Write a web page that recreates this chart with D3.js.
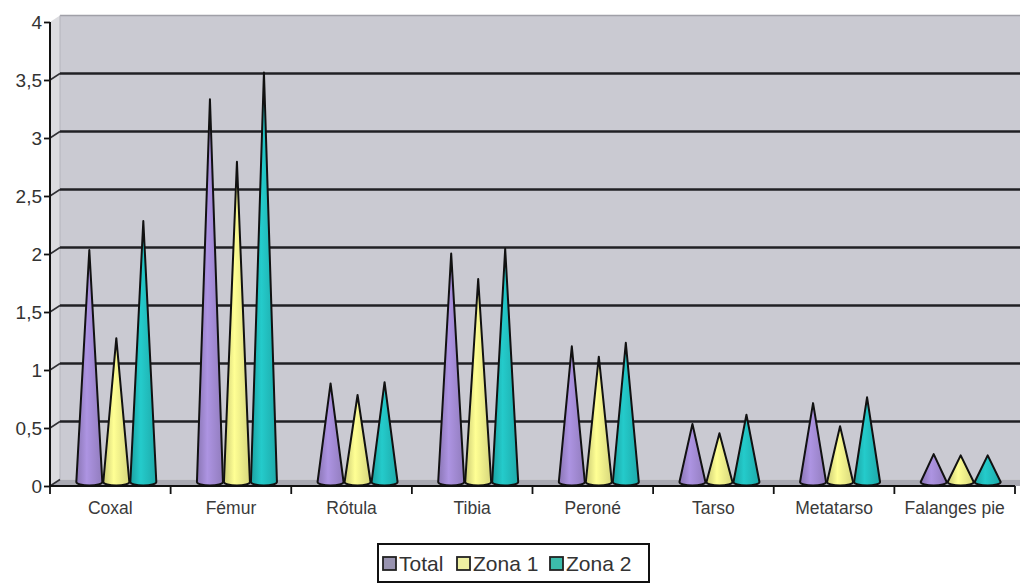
<!DOCTYPE html>
<html><head><meta charset="utf-8">
<script src="https://cdn.jsdelivr.net/npm/d3@7"></script>
<style>html,body{margin:0;padding:0;background:#fff;}svg{display:block;font-family:"Liberation Sans",Arial,sans-serif;}</style>
</head><body><svg id="chart" width="1020" height="584"></svg>
<script>
const categories = ["Coxal","Fémur","Rótula","Tibia","Peroné","Tarso","Metatarso","Falanges pie"];
const seriesNames = ["Total","Zona 1","Zona 2"];
const totalValues = [2.0, 3.3, 0.85, 1.97, 1.17, 0.5, 0.68, 0.24];
const zona1Values = [1.24, 2.76, 0.75, 1.75, 1.08, 0.42, 0.48, 0.23];
const zona2Values = [2.25, 3.53, 0.86, 2.01, 1.2, 0.58, 0.73, 0.23];
const yTicks = [0, 0.5, 1, 1.5, 2, 2.5, 3, 3.5, 4];
const yTickLabels = ["0","0,5","1","1,5","2","2,5","3","3,5","4"];
const seriesColors = ["#a48cd6", "#f2f28c", "#22c0c0"];
const legendColors = ["#9893b0", "#eef0a2", "#3cbcab"];

const values = [totalValues, zona1Values, zona2Values];
const svg = d3.select("#chart");

const x0 = d3.scaleBand().domain(categories).range([50, 1015]).paddingInner(0).paddingOuter(0);
const xs = d3.scaleBand().domain(seriesNames).range([-40.5, 40.5]);
const y = d3.scaleLinear().domain([0, 4]).range([486, 22]);
const depthX = 10, depthY = -6.5;   // back wall offset
const coneDX = 6, coneDY = -4;      // cones at mid depth

// gradients
const defs = svg.append("defs");
seriesColors.forEach((c, i) => {
  const g = defs.append("linearGradient").attr("id", "cg" + i).attr("x1", "0").attr("x2", "1").attr("y1", "0").attr("y2", "0");
  const base = d3.color(c);
  g.append("stop").attr("offset", "0").attr("stop-color", base.darker(0.5));
  g.append("stop").attr("offset", "0.4").attr("stop-color", base.brighter(0.15));
  g.append("stop").attr("offset", "1").attr("stop-color", base.darker(0.35));
});

const xL = 50, xR = 1015;
// back wall
svg.append("rect").attr("x", xL + depthX).attr("y", y(4) + depthY)
  .attr("width", 1020 - (xL + depthX)).attr("height", y(0) - y(4))
  .attr("fill", "#cacad2");
svg.append("line").attr("x1", xL + depthX).attr("x2", 1020).attr("y1", y(4) + depthY).attr("y2", y(4) + depthY)
  .attr("stroke", "#a0a0a8").attr("stroke-width", 1.5);
// side wall
svg.append("path").attr("d", `M${xL},${y(4)} L${xL + depthX},${y(4) + depthY} L${xL + depthX},${y(0) + depthY} L${xL},${y(0)} Z`)
  .attr("fill", "#dcdce0");
svg.append("line").attr("x1", xL + depthX).attr("x2", xL + depthX).attr("y1", y(4) + depthY).attr("y2", y(0) + depthY)
  .attr("stroke", "#b4b4bc").attr("stroke-width", 1);
// floor
svg.append("path").attr("d", `M${xL},${y(0)} L${xL + depthX},${y(0) + depthY} L1020,${y(0) + depthY} L${xR + 5},${y(0)} Z`)
  .attr("fill", "#a9a9b2");

// gridlines on back wall
svg.append("g").selectAll("line").data(yTicks.filter(t => t > 0 && t < 4)).join("line")
  .attr("x1", xL + depthX).attr("x2", 1020)
  .attr("y1", d => y(d) + depthY).attr("y2", d => y(d) + depthY)
  .attr("stroke", "#202024").attr("stroke-width", 2.5);
// gridline connectors on side wall
svg.append("g").selectAll("path").data(yTicks.filter(t => t < 4)).join("path")
  .attr("d", d => `M${xL},${y(d)} L${xL + depthX},${y(d) + depthY}`)
  .attr("stroke", "#303034").attr("stroke-width", 1.5).attr("fill", "none");

// cones
const coneHalf = 13, ry = 3.5;
const conePath = (cx, v) => {
  const by = y(0) + coneDY, ay = y(v) + coneDY;
  return `M${cx - coneHalf},${by} L${cx},${ay} L${cx + coneHalf},${by} A${coneHalf},${ry} 0 0 1 ${cx - coneHalf},${by} Z`;
};
const coneData = [];
categories.forEach((c, ci) => {
  seriesNames.forEach((s, si) => {
    coneData.push({cat: c, s, si, v: values[si][ci]});
  });
});
svg.append("g").selectAll("path").data(coneData).join("path")
  .attr("d", d => conePath(x0(d.cat) + x0.bandwidth() / 2 + xs(d.s) + xs.bandwidth() / 2 + coneDX, d.v))
  .attr("fill", d => `url(#cg${d.si})`)
  .attr("stroke", "#111").attr("stroke-width", 2).attr("stroke-linejoin", "round");

// y axis
const yAxis = d3.axisLeft(y).tickValues(yTicks).tickSize(6).tickFormat((d, i) => yTickLabels[i]);
const gy = svg.append("g").attr("transform", `translate(${xL},0)`).call(yAxis);
gy.select(".domain").attr("stroke", "#111").attr("stroke-width", 2).attr("d", `M0,${y(4)}V${y(0)}`);
gy.selectAll(".tick line").attr("stroke", "#111").attr("stroke-width", 1.8);
gy.selectAll(".tick text").attr("font-size", 19).attr("fill", "#333").attr("x", -8)
  .attr("font-family", "Liberation Sans, Arial, sans-serif");

// x axis
const xAxis = d3.axisBottom(x0).tickSize(0).tickPadding(16);
const gx = svg.append("g").attr("transform", `translate(0,${y(0)})`).call(xAxis);
gx.select(".domain").attr("stroke", "#111").attr("stroke-width", 2).attr("d", `M${xL},0H${xR}`);
gx.selectAll(".tick text").attr("font-size", 17.5).attr("fill", "#3a3a3a")
  .attr("font-family", "Liberation Sans, Arial, sans-serif");
// boundary ticks
const bounds = categories.map(c => x0(c)).concat([xR]);
gx.append("g").selectAll("line").data(bounds).join("line")
  .attr("x1", d => d).attr("x2", d => d).attr("y1", 0).attr("y2", 8)
  .attr("stroke", "#111").attr("stroke-width", 1.8);

// legend
const lg = svg.append("g");
lg.append("rect").attr("x", 378).attr("y", 544).attr("width", 271).attr("height", 38)
  .attr("fill", "#fff").attr("stroke", "#111").attr("stroke-width", 2);
const legX = [383, 457, 550];
const items = lg.selectAll("g.item").data(seriesNames).join("g").attr("class", "item")
  .attr("transform", (d, i) => `translate(${legX[i]},557)`);
items.append("rect").attr("width", 13).attr("height", 13)
  .attr("fill", (d, i) => legendColors[i]).attr("stroke", "#222").attr("stroke-width", 1.8);
items.append("text").attr("x", 16).attr("y", 14).attr("font-size", 21).attr("fill", "#333")
  .text(d => d);
</script></body></html>
